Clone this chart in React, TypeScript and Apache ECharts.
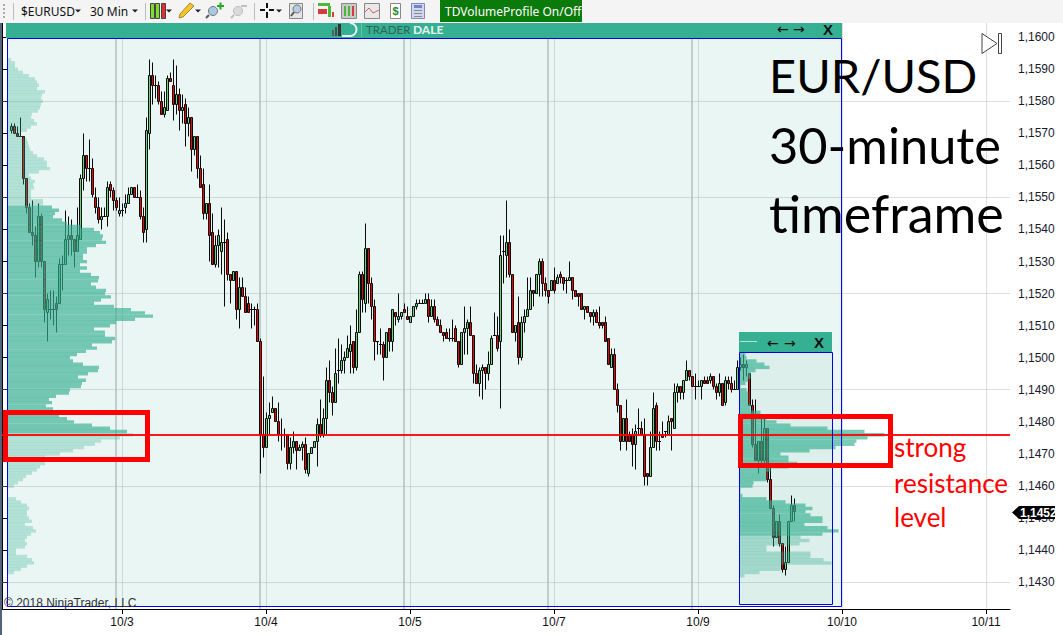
import React, { useEffect, useRef } from "react";
import * as echarts from "echarts";

const firstCandleIndex = 3;
const opens = [
  11571,11572,11570,11569,11569,11556,11547,11539,11538,11530,
  11544,11530,11514,11515,11515,11517,11517,11529,11529,11537,
  11538,11537,11533,11537,11556,11563,11559,11559,11550,11547,
  11543,11544,11544,11554,11552,11549,11545,11546,11547,11548,
  11551,11553,11550,11550,11544,11540,11570,11588,11585,11585,
  11580,11576,11577,11587,11585,11579,11582,11577,11579,11573,
  11575,11565,11569,11559,11554,11545,11548,11539,11529,11535,
  11533,11536,11537,11526,11524,11527,11515,11522,11519,11517,
  11515,11515,11515,11505,11476,11472,11481,11483,11484,11480,
  11476,11476,11476,11467,11472,11474,11471,11472,11473,11464,
  11470,11472,11474,11479,11476,11481,11493,11489,11486,11496,
  11496,11499,11500,11502,11505,11497,11508,11526,11517,11534,
  11523,11516,11505,11504,11504,11500,11509,11505,11514,11512,
  11513,11515,11513,11511,11513,11516,11517,11517,11517,11518,
  11513,11516,11512,11510,11508,11508,11506,11506,11509,11505,
  11498,11508,11509,11511,11507,11495,11492,11496,11497,11495,
  11498,11507,11507,11505,11533,11532,11536,11526,11508,11511,
  11500,11511,11513,11515,11521,11520,11526,11530,11523,11521,
  11521,11524,11523,11526,11525,11524,11524,11525,11521,11520,
  11520,11515,11516,11514,11513,11514,11511,11511,11511,11506,
  11497,11501,11490,11485,11474,11481,11476,11476,11473,11478,
  11478,11476,11464,11463,11472,11485,11474,11476,11477,11476,
  11481,11478,11489,11491,11489,11493,11496,11494,11491,11491,
  11491,11493,11493,11493,11494,11491,11489,11492,11486,11493,
  11492,11490,11490,11497,11498,11497,11495,11485,11473,11468,
  11474,11468,11478,11462,11453,11444,11449,11442,11434,11436,
  11449,11454,
];
const closes = [
  11572,11570,11569,11569,11556,11547,11539,11538,11530,11544,
  11530,11515,11518,11515,11515,11515,11529,11529,11537,11538,
  11537,11533,11538,11556,11563,11559,11559,11551,11547,11543,
  11544,11544,11553,11552,11549,11547,11546,11546,11548,11551,
  11553,11550,11550,11544,11539,11571,11588,11585,11585,11580,
  11576,11578,11587,11586,11579,11582,11577,11578,11573,11575,
  11565,11569,11559,11553,11545,11548,11538,11529,11535,11538,
  11536,11536,11526,11524,11527,11515,11522,11519,11514,11514,
  11515,11515,11505,11476,11472,11481,11482,11484,11480,11476,
  11476,11476,11467,11472,11474,11471,11472,11473,11465,11470,
  11472,11474,11479,11476,11481,11493,11489,11486,11495,11496,
  11499,11500,11503,11504,11497,11508,11526,11518,11534,11523,
  11516,11505,11505,11504,11500,11508,11505,11515,11513,11513,
  11514,11514,11512,11513,11516,11517,11517,11517,11518,11513,
  11516,11512,11510,11508,11507,11506,11506,11506,11505,11498,
  11508,11509,11511,11507,11495,11492,11496,11497,11495,11498,
  11506,11507,11503,11532,11533,11536,11526,11508,11510,11500,
  11511,11513,11515,11521,11520,11526,11530,11523,11521,11519,
  11524,11521,11525,11525,11523,11524,11525,11521,11519,11519,
  11515,11516,11514,11513,11514,11511,11510,11510,11505,11498,
  11501,11490,11485,11474,11481,11474,11474,11473,11477,11478,
  11476,11463,11463,11472,11484,11474,11474,11475,11477,11480,
  11480,11489,11491,11489,11493,11496,11494,11491,11491,11491,
  11493,11492,11492,11494,11491,11489,11492,11485,11493,11492,
  11490,11490,11497,11498,11497,11498,11485,11473,11468,11474,
  11468,11478,11462,11453,11444,11449,11442,11434,11436,11449,
  11454,11452,
];
const lows = [
  11570,11570,11569,11569,11554,11545,11539,11535,11525,11528,
  11528,11511,11505,11512,11510,11508,11521,11521,11529,11532,
  11532,11528,11533,11537,11552,11555,11555,11550,11545,11542,
  11540,11544,11541,11550,11546,11546,11544,11544,11545,11548,
  11551,11550,11550,11543,11536,11536,11565,11579,11581,11579,
  11576,11575,11577,11586,11574,11576,11571,11573,11566,11569,
  11558,11563,11556,11553,11543,11543,11530,11529,11528,11528,
  11526,11516,11524,11517,11524,11512,11509,11519,11514,11514,
  11509,11510,11505,11464,11469,11472,11476,11483,11480,11474,
  11471,11472,11465,11465,11470,11465,11471,11468,11464,11463,
  11470,11472,11466,11475,11475,11476,11486,11482,11486,11492,
  11495,11495,11500,11495,11495,11496,11508,11514,11514,11517,
  11512,11499,11501,11501,11493,11500,11502,11502,11510,11511,
  11512,11514,11512,11511,11513,11515,11517,11517,11517,11511,
  11513,11511,11510,11508,11505,11506,11505,11505,11505,11497,
  11498,11501,11501,11507,11492,11492,11488,11487,11490,11493,
  11498,11507,11502,11484,11523,11525,11525,11508,11505,11498,
  11499,11508,11513,11515,11516,11520,11519,11519,11519,11517,
  11521,11520,11523,11523,11521,11520,11524,11518,11519,11516,
  11515,11512,11514,11511,11510,11511,11509,11509,11505,11498,
  11497,11490,11483,11471,11474,11471,11474,11466,11465,11476,
  11476,11460,11460,11463,11472,11471,11471,11475,11475,11476,
  11471,11478,11486,11487,11487,11493,11493,11491,11487,11491,
  11487,11492,11492,11492,11490,11487,11488,11485,11485,11490,
  11489,11490,11490,11496,11493,11494,11485,11472,11468,11464,
  11467,11467,11461,11453,11441,11444,11441,11433,11432,11436,
  11449,11449,
];
const highs = [
  11573,11573,11572,11575,11569,11556,11548,11549,11541,11548,
  11545,11530,11520,11521,11521,11519,11531,11532,11546,11544,
  11543,11537,11547,11557,11570,11563,11568,11562,11553,11550,
  11547,11547,11555,11555,11553,11550,11550,11548,11551,11553,
  11553,11553,11554,11552,11547,11575,11593,11592,11588,11586,
  11583,11583,11588,11589,11593,11591,11584,11582,11581,11578,
  11575,11569,11569,11563,11559,11548,11554,11545,11538,11540,
  11547,11543,11539,11526,11527,11527,11525,11525,11522,11519,
  11517,11516,11517,11506,11494,11483,11486,11488,11484,11486,
  11481,11478,11476,11475,11477,11474,11473,11474,11475,11470,
  11472,11474,11481,11487,11484,11497,11499,11491,11503,11506,
  11504,11502,11507,11510,11505,11515,11527,11527,11542,11534,
  11525,11518,11505,11509,11505,11508,11509,11515,11514,11520,
  11514,11517,11516,11513,11516,11518,11518,11518,11520,11520,
  11518,11518,11513,11512,11508,11509,11509,11512,11510,11505,
  11508,11516,11512,11516,11507,11498,11497,11498,11497,11502,
  11507,11514,11513,11538,11538,11549,11540,11526,11510,11519,
  11513,11515,11525,11525,11521,11526,11531,11531,11525,11521,
  11524,11528,11526,11527,11525,11525,11530,11525,11521,11520,
  11520,11516,11516,11514,11515,11515,11516,11511,11513,11506,
  11503,11503,11492,11485,11481,11487,11477,11478,11479,11484,
  11480,11481,11464,11477,11489,11486,11477,11480,11477,11482,
  11481,11492,11492,11491,11493,11499,11496,11494,11495,11493,
  11493,11494,11494,11495,11494,11492,11495,11492,11494,11494,
  11494,11493,11499,11500,11501,11499,11495,11487,11487,11474,
  11481,11481,11478,11466,11454,11449,11451,11442,11441,11449,
  11457,11456,
];

// Volume profile of the whole period: volumes by price row, from the given top row downwards.
const leftUpperTop = 11593;
const leftUpperVolumes = [3,7,7,10,15,21,27,29,31,29,37,34,33,35,33,32,30,24,23,26,29,23,19,13,13,19,20,21,22,25,29,36,39,39,42,31,21,23,27,25,26,23,23,23,35,35];
const leftCoreTop = 11547;
const leftCoreVolumes = [44,51,47,45,54,59,73,86,92,95,94,98,88,79,79,75,75,79,72,79,72,83,91,90,83,88,98,97,103,93,86,106,123,137,145,127,108,102,86,97,97,107,104,84,89,78,69,62,65,75,91,90,80,70,78,74,73,62,61,48,41,44,38,45,48,51,59,66,84,102,119];
const leftLowerTop = 11476;
const leftLowerVolumes = [125,112,93,87,76,65,52,37,37,37,32,29,24,18,15,10,6,0,0,0,8,13,19,21,19,19,21,24,17,25,28,23,19,17,19,17,8,8,19,24,26,19,13,6];
// Volume profile of the last days.
const rightCoreTop = 11501;
const rightCoreVolumes = [6,7,17,25,30,16,11,11,9,6,1,7,9,9,9,9,11,11,21,22,27,37,51,88,125,145,128,117,115,96,70,41,49,49,58,49,31,27,27,27,14,13,1,1,3,27,46,66,73,66,71,83,83,65,88,99,83];
const rightLowerTop = 11444;
const rightLowerVolumes = [61,70,60,27,27,71,71,84,92,41,41,20,5];

const yTicks = [1.143,1.144,1.145,1.146,1.147,1.148,1.149,1.15,1.151,1.152,1.153,1.154,1.155,1.156,1.157,1.158,1.159,1.16];
const gridPrices = [1.143,1.146,1.149,1.152,1.155,1.158];
const xTickIndices = [40,88,136,184,232,280,328];
const xTickLabels = ["10/3","10/4","10/5","10/7","10/9","10/10","10/11"];
const sessionBreaks = [38,86,134,182,230];
const resistancePrice = 1.1476;
const barCount = 337;

const xCategories = Array.from({ length: barCount }, (_, i) => {
  const k = xTickIndices.indexOf(i);
  return k >= 0 ? xTickLabels[k] : "";
});

const candleData = opens.map((o, k) => [
  k + firstCandleIndex,
  o / 10000,
  closes[k] / 10000,
  lows[k] / 10000,
  highs[k] / 10000,
]);

const snap = (v: number) => Math.round(v - 0.5) + 0.5;

const renderCandle = (_p: any, api: any) => {
  const i = api.value(0);
  const o = api.value(1);
  const c = api.value(2);
  const cx = snap(api.coord([i, o])[0]);
  const yo = snap(api.coord([i, o])[1]);
  const yc = snap(api.coord([i, c])[1]);
  const yl = snap(api.coord([i, api.value(3)])[1]);
  const yh = snap(api.coord([i, api.value(4)])[1]);
  const ink = "#0a0a0a";
  const top = Math.min(yo, yc);
  const h = Math.abs(yo - yc);
  return {
    type: "group",
    children: [
      { type: "line", shape: { x1: cx, y1: yh, x2: cx, y2: yl }, style: { stroke: ink, lineWidth: 1 } },
      h === 0
        ? { type: "line", shape: { x1: cx - 1.5, y1: top, x2: cx + 1.5, y2: top }, style: { stroke: ink, lineWidth: 1 } }
        : { type: "rect", shape: { x: cx - 1, y: top, width: 2, height: h }, style: { fill: c >= o ? "#62d97e" : "#f00000", stroke: ink, lineWidth: 1 } },
    ],
  };
};

const profileSeries = (top: number, volumes: number[], base: number, alpha: number) => ({
  type: "custom",
  xAxisIndex: 1,
  yAxisIndex: 0,
  z: 3,
  silent: true,
  clip: false,
  encode: { x: 0, y: 1 },
  data: volumes.map((v, k) => [v, (top - k) / 10000]),
  renderItem: (_p: any, api: any) => {
    const v = api.value(0);
    const p = api.value(1);
    const a = api.coord([base, p]);
    const b = api.coord([base + v, p]);
    const h = api.size([0, 0.0001])[1];
    return {
      type: "rect",
      shape: { x: a[0], y: a[1] - h / 2, width: b[0] - a[0], height: h + 0.2 },
      style: { fill: `rgba(54,176,146,${alpha})`, stroke: "none" },
    };
  },
});

const T = (text: string, x: number, y: number, font: string, fill: string, z = 60, align = "left") => ({
  type: "text", x, y, z, silent: true,
  style: { text, font, fill, align, verticalAlign: "middle" },
});
const R = (x: number, y: number, width: number, height: number, fill: string, z = 50, stroke?: string, lineWidth = 1) => ({
  type: "rect", z, silent: true, shape: { x, y, width, height },
  style: { fill, stroke: stroke || "none", lineWidth },
});
const C = (cx: number, cy: number, r: number, fill: string, stroke: string) => ({
  type: "circle", z: 56, silent: true, shape: { cx, cy, r }, style: { fill, stroke, lineWidth: 1 },
});
const L = (x1: number, y1: number, x2: number, y2: number, stroke: string, lineWidth = 1.5) => ({
  type: "line", z: 56, silent: true, shape: { x1, y1, x2, y2 }, style: { stroke, lineWidth },
});
const tri = (x: number, y: number) => ({
  type: "polygon", z: 56, silent: true,
  shape: { points: [[x - 3, y - 1.5], [x + 3, y - 1.5], [x, y + 1.5]] },
  style: { fill: "#222" },
});
const vsep = (x: number) => R(x, 3, 1, 17, "#bdbdbd", 56);

const toolbar = [
  R(0, 0, 1063, 23, "#f4f4f4", 55),
  R(3, 4, 2, 2, "#aaa", 56), R(3, 8, 2, 2, "#aaa", 56), R(3, 12, 2, 2, "#aaa", 56), R(3, 16, 2, 2, "#aaa", 56),
  vsep(13), vsep(145), vsep(254), vsep(313),
  T("$EURUSD", 21, 11, "12px 'Noto Sans'", "#111", 56),
  tri(78, 11),
  T("30 Min", 90, 11, "12px 'Noto Sans'", "#111", 56),
  tri(135, 11),
  R(150.5, 3.5, 4, 15, "#7ddc2e", 56, "#444"), R(155.5, 3.5, 4, 15, "#7ddc2e", 56, "#444"), R(161.5, 3.5, 4, 15, "#e23030", 56, "#444"),
  tri(169, 11),
  { type: "polygon", z: 56, silent: true, shape: { points: [[180, 14], [190, 3], [194, 6], [183, 17], [179, 18]] }, style: { fill: "#f2c52b", stroke: "#a08a30", lineWidth: 1 } },
  tri(198, 11),
  C(213, 11, 4.5, "#a9c8e4", "#777"), L(209, 15, 206, 18, "#555", 2),
  R(217, 5, 7, 2, "#22aa22", 56), R(219.5, 2.5, 2, 7, "#22aa22", 56),
  C(238, 11, 4.5, "#dadada", "#bbb"), L(234, 15, 231, 18, "#bbb", 2), R(241, 5, 6, 2, "#c0c0c0", 56),
  L(260, 10, 265, 10, "#111", 2), L(269, 10, 274, 10, "#111", 2), L(267, 3, 267, 8, "#111", 2), L(267, 12, 267, 18, "#111", 2),
  tri(279, 11),
  R(289.5, 3.5, 13, 15, "#e4e4e4", 56, "#888"), C(297, 9, 4, "#b5cde2", "#777"), L(294, 12, 291, 16, "#555", 2),
  R(318, 3, 12, 3, "#4cb83a", 56), R(318, 9, 9, 5, "#d83b3b", 56), R(328, 6, 3, 11, "#4cb83a", 56), R(332, 12, 2, 5, "#d83b3b", 56),
  R(341.5, 3.5, 15, 15, "#c9c9c9", 56, "#888"), R(344, 6, 2, 10, "#4cb83a", 57), R(348, 6, 2, 10, "#4cb83a", 57), R(352, 6, 2, 10, "#d83b3b", 57),
  R(364.5, 3.5, 15, 15, "#e8e8e8", 56, "#888"),
  { type: "polyline", z: 57, silent: true, shape: { points: [[365, 12], [369, 8], [373, 13], [379, 10]] }, style: { stroke: "#d86060", fill: "none" } },
  R(390.5, 3.5, 10, 15, "#fff", 56, "#888"),
  T("$", 395.5, 11, "bold 11px 'Liberation Sans'", "#2a8a2a", 57, "center"),
  R(411.5, 3.5, 13, 15, "#cfd8ef", 56, "#8887b5"), R(414, 5, 8, 3, "#6f86c9", 57), R(414, 10, 8, 1, "#888", 57), R(414, 13, 8, 1, "#888", 57), R(414, 16, 8, 1, "#888", 57),
  R(440, 0, 142, 22, "#0a7a0a", 56),
  T("TDVolumeProfile On/Off", 445, 11, "12px 'Noto Sans'", "#fff", 57),
];

const graphics = [
  R(7.5, 38.5, 834, 568, "#eaf6f3", -2),
  R(739.5, 352.5, 93, 252, "#dcefeb", -1),
  R(0, 23, 2, 612, "#53637b", 55),
  ...toolbar,
  R(6, 23, 836, 15, "#36b092", 40),
  R(7.5, 38.5, 834, 568, "none", 41, "#0000ee", 1),
  R(332, 30, 2, 6, "#5b5b5b", 42), R(335, 27, 2, 9, "#4a4a4a", 42), R(338, 24, 3, 12, "#333", 42),
  { type: "arc", z: 42, silent: true, shape: { cx: 350, cy: 29.5, r: 6.5, startAngle: -1.57, endAngle: 1.57, clockwise: true }, style: { stroke: "#e8f3f0", lineWidth: 2, fill: "none" } },
  R(342, 35, 8, 2, "#e8f3f0", 42),
  R(361, 23, 1, 14, "#68c3ac", 42),
  T("TRADER", 366, 29, "11.5px Lato", "#2c6558", 42),
  T("DALE", 413, 29, "bold 12px Lato", "#e6f5f1", 42),
  T("←", 777, 29, "14px 'DejaVu Sans'", "#111", 42),
  T("→", 793, 29, "14px 'DejaVu Sans'", "#111", 42),
  T("X", 828, 29, "bold 15px 'Liberation Sans'", "#111", 42, "center"),
  R(739, 332, 93, 20, "#36b092", 42),
  R(739.5, 352.5, 93, 252, "none", 43, "#0000ee", 1),
  R(740, 341, 17, 1, "#b9e0d7", 43),
  T("←", 767, 343, "14px 'DejaVu Sans'", "#111", 43),
  T("→", 784, 343, "14px 'DejaVu Sans'", "#111", 43),
  T("X", 819, 342, "bold 15px 'Liberation Sans'", "#111", 43, "center"),
  R(5.5, 412.5, 142, 47, "none", 45, "#ff0000", 5),
  R(740.5, 416.5, 150, 49, "none", 45, "#ff0000", 5),
  T("EUR/USD", 769, 75, "47px Lato", "#000"),
  T("30-minute", 769, 144, "50.5px Lato", "#000"),
  T("timeframe", 769, 213, "52px Lato", "#000"),
  T("strong", 894, 447, "26px Lato", "#ff0000"),
  T("resistance", 894, 483, "26px Lato", "#ff0000"),
  T("level", 894, 517, "26px Lato", "#ff0000"),
  T("© 2018 NinjaTrader, LLC", 4, 603, "12px 'Liberation Sans'", "#333", 44),
  { type: "polygon", z: 60, silent: true, shape: { points: [[982, 33.5], [997, 43.5], [982, 53.5]] }, style: { fill: "#fff", stroke: "#444", lineWidth: 1 } },
  R(998.5, 33.5, 3, 20, "#fff", 60, "#444", 1),
  { type: "polygon", z: 60, silent: true, shape: { points: [[1012, 512.5], [1019, 506], [1055, 506], [1055, 519], [1019, 519]] }, style: { fill: "#000" } },
  T("1,1452", 1020, 512.5, "bold 12px 'Liberation Sans'", "#fff", 61),
];

export default function App() {
  const ref = useRef<HTMLDivElement>(null);
  useEffect(() => {
    const chart = echarts.init(ref.current!, undefined, { renderer: "svg" });
    const tickVisible = (i: number) => xTickIndices.includes(i);
    chart.setOption({
      animation: false,
      backgroundColor: "#fff",
      grid: { left: 2, top: 23, width: 1008, height: 586, containLabel: false },
      xAxis: [
        {
          type: "category",
          data: xCategories,
          boundaryGap: false,
          axisLine: { lineStyle: { color: "#000", width: 1 } },
          axisTick: { interval: tickVisible, length: 5, lineStyle: { color: "#000" } },
          axisLabel: { interval: tickVisible, color: "#111", fontFamily: "'Liberation Sans'", fontSize: 12, margin: 7 },
          splitLine: { show: true, interval: tickVisible, lineStyle: { color: "rgba(150,165,162,0.35)", width: 1 } },
        },
        { type: "value", min: 0, max: 1008, show: false, splitLine: { show: false } },
      ],
      yAxis: {
        type: "value",
        position: "right",
        offset: 1,
        min: 1.14216,
        max: 1.16044,
        axisLine: { show: true, lineStyle: { color: "#000", width: 1 } },
        axisTick: { show: true, length: 5, customValues: yTicks, lineStyle: { color: "#000" } },
        axisLabel: {
          customValues: yTicks,
          color: "#1a1a2e",
          fontFamily: "'Liberation Sans'",
          fontSize: 12,
          margin: 7,
          formatter: (v: number) => v.toFixed(4).replace(".", ","),
        },
        splitLine: { show: false },
      },
      graphic: { elements: graphics },
      series: [
        {
          type: "line", data: [], z: 1, silent: true,
          markLine: {
            z: 1, silent: true, symbol: "none", precision: 6, animation: false, label: { show: false },
            lineStyle: { color: "rgba(150,165,162,0.35)", width: 1, type: "solid" },
            data: gridPrices.map((p) => ({ yAxis: p })),
          },
        },
        {
          type: "line", data: [], z: 1, silent: true,
          markLine: {
            z: 1, silent: true, symbol: "none", animation: false, label: { show: false },
            lineStyle: { color: "#b3bfbc", width: 1.5, type: "solid" },
            data: sessionBreaks.map((i) => ({ xAxis: i })),
          },
        },
        {
          type: "custom",
          name: "EUR/USD",
          xAxisIndex: 0,
          yAxisIndex: 0,
          z: 2,
          silent: true,
          clip: false,
          encode: { x: 0, y: [1, 2, 3, 4] },
          renderItem: renderCandle,
          data: candleData,
        },
        profileSeries(leftUpperTop, leftUpperVolumes, 6, 0.3),
        profileSeries(leftCoreTop, leftCoreVolumes, 6, 0.66),
        profileSeries(leftLowerTop, leftLowerVolumes, 6, 0.3),
        profileSeries(rightCoreTop, rightCoreVolumes, 737.5, 0.66),
        profileSeries(rightLowerTop, rightLowerVolumes, 737.5, 0.35),
        {
          type: "line", data: [], z: 20, silent: true,
          markLine: {
            z: 20, silent: true, symbol: "none", precision: 6, animation: false, label: { show: false },
            lineStyle: { color: "#ff0000", width: 2, type: "solid", opacity: 0.9 },
            data: [{ yAxis: resistancePrice }],
          },
        },
      ],
    });
    return () => chart.dispose();
  }, []);
  return <div ref={ref} style={{ position: "absolute", left: 0, top: 0, width: 1063, height: 635 }} />;
}
